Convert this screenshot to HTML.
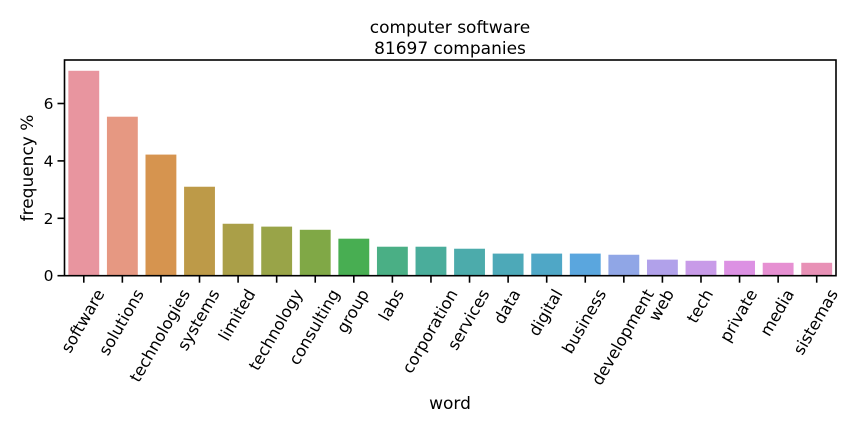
<!DOCTYPE html>
<html><head><meta charset="utf-8"><style>
body{margin:0;background:#fff;}
svg{font-family:"DejaVu Sans","Liberation Sans",sans-serif;}
</style></head><body>
<svg id="chart" width="864" height="432" xmlns="http://www.w3.org/2000/svg">
<text x="450" y="33" font-size="17" text-anchor="middle">computer software</text>
<text x="450" y="54" font-size="17" text-anchor="middle">81697 companies</text>
<g id="bars"></g>
<g id="xaxis"></g>
<g id="yaxis"></g>
<rect x="64.5" y="60" width="771.5" height="215.7" fill="none" stroke="#000" stroke-width="1.6"/>
<text x="450" y="409" font-size="17" text-anchor="middle">word</text>
<text transform="translate(33,168) rotate(-90)" font-size="17" text-anchor="middle">frequency %</text>
</svg>
<script>
const categories=["software","solutions","technologies","systems","limited","technology","consulting","group","labs","corporation","services","data","digital","business","development","web","tech","private","media","sistemas"];
const values=[7.14,5.54,4.22,3.10,1.81,1.71,1.60,1.29,1.01,1.01,0.94,0.77,0.77,0.77,0.73,0.56,0.52,0.52,0.45,0.45];
const colors=["#e8959f","#e69882","#d6944f","#bd9a48","#aa9f48","#99a448","#80a846","#48ae52","#4aaf85","#4aad9b","#4cabab","#4da9b8","#4fa7c6","#5aa6de","#90a6e6","#b1a1ea","#c89be8","#dc91e3","#e690d2","#e891b6"];
const yTicks=[0,2,4,6];
const L=64.5,R=836,T=60,B=275.7;
const xs=i=>L+(R-L)/categories.length*(i+0.5);
const ys=v=>B-v*28.7;
const ns="http://www.w3.org/2000/svg";
const bw=(R-L)/categories.length*0.8;
const gb=document.getElementById('bars'),gx=document.getElementById('xaxis'),gy=document.getElementById('yaxis');
function mk(t,a,p){const e=document.createElementNS(ns,t);for(const k in a)e.setAttribute(k,a[k]);p.appendChild(e);return e;}
const s60=Math.sin(Math.PI/3),c60=0.5,FS=16.3,TH=12;
categories.forEach((c,i)=>{
 const r=mk('rect',{x:xs(i)-bw/2,y:ys(values[i]),width:bw,height:B-ys(values[i]),fill:colors[i]},gb);
 
 
 const tk=mk('line',{x1:xs(i),x2:xs(i),y1:B,y2:B+7,stroke:'#000','stroke-width':1.6},gx);
 
 
 const t=mk('text',{'font-size':FS,'text-anchor':'middle','dominant-baseline':'central'},gx);
 t.textContent=c;
 
 
 const w=t.getComputedTextLength();
 const bh=w*s60+TH*c60;
 t.setAttribute('transform',`translate(${xs(i)-1},${B+12+bh/2}) rotate(-60)`);
});
yTicks.forEach(v=>{
 const tk=mk('line',{x1:L-7,x2:L,y1:ys(v),y2:ys(v),stroke:'#000','stroke-width':1.6},gy);
 
 
 const t=mk('text',{x:L-11,y:ys(v)+5.5,'font-size':15.5,'text-anchor':'end'},gy);
 t.textContent=v;
 
 
});
</script>
</body></html>
